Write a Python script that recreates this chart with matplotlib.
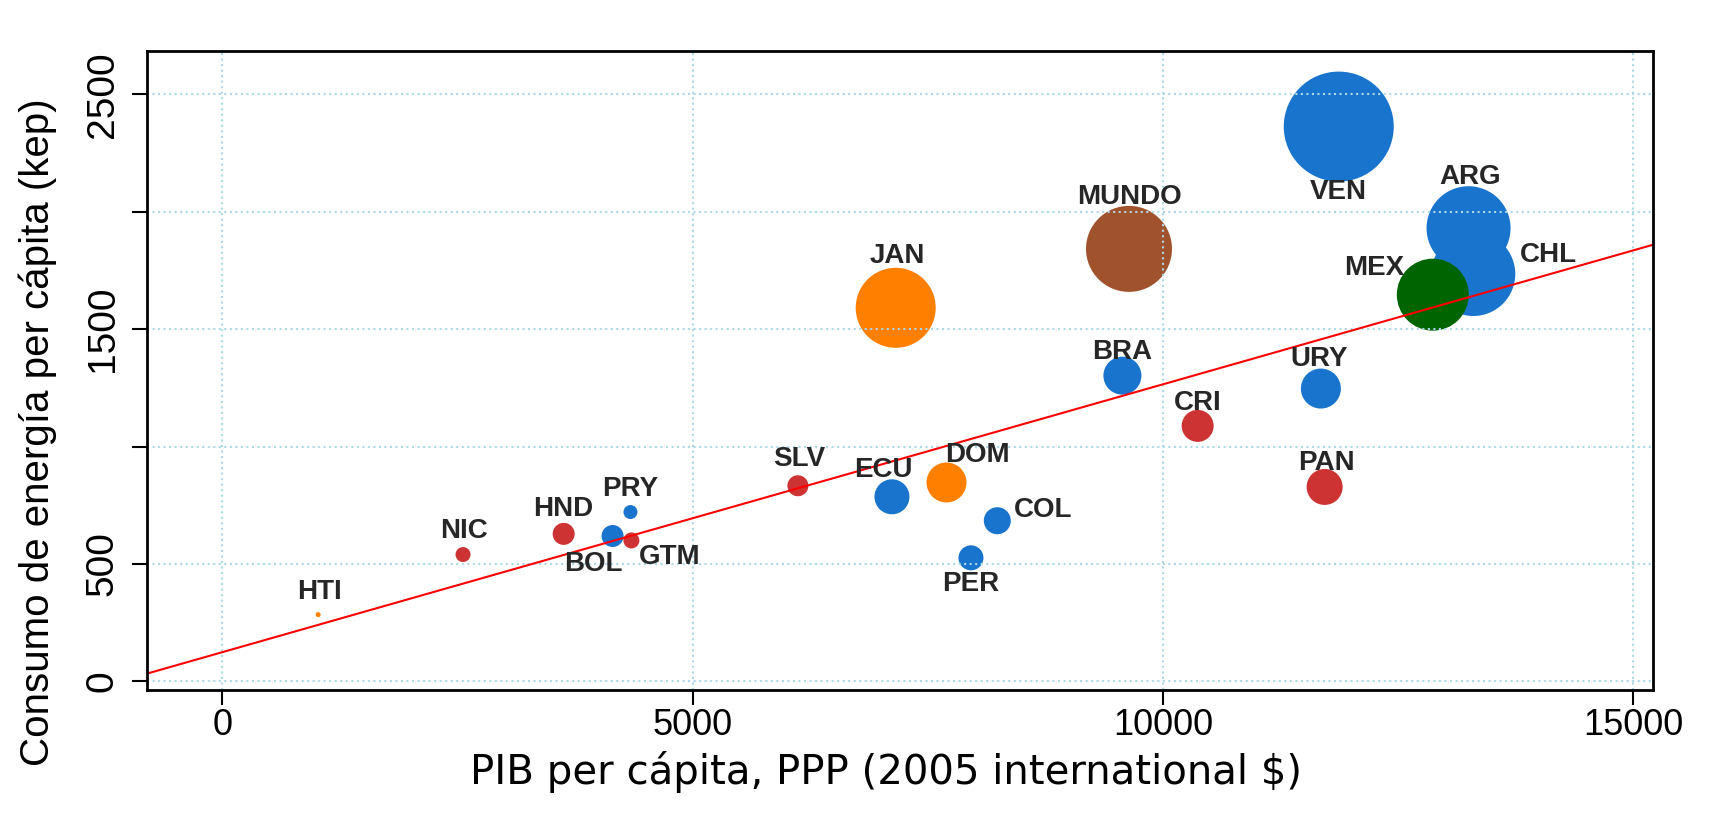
import numpy as np
import matplotlib.pyplot as plt

plt.rcParams['font.family'] = ['Liberation Sans', 'DejaVu Sans']

# datos
paises = ['HTI', 'NIC', 'HND', 'BOL', 'PRY', 'GTM', 'SLV', 'ECU', 'DOM', 'COL',
          'PER', 'BRA', 'CRI', 'URY', 'PAN', 'JAN', 'MUNDO', 'VEN', 'ARG', 'CHL', 'MEX']
pib = [1020, 2560, 3630, 4150, 4340, 4350, 6120, 7120, 7700, 8240,
       7960, 9570, 10370, 11680, 11720, 7160, 9640, 11870, 13250, 13300, 12870]
energia = [284, 540, 628, 619, 721, 600, 833, 786, 847, 684,
           526, 1302, 1088, 1247, 828, 1591, 1842, 2363, 1930, 1735, 1647]
tam = [5, 15, 22, 22, 14, 16, 21, 35, 40, 27,
       25, 38, 32, 40, 36, 80, 86, 110, 84, 84, 72]
grupo = ['car', 'cam', 'cam', 'sur', 'sur', 'cam', 'cam', 'sur', 'car', 'sur',
         'sur', 'sur', 'cam', 'sur', 'cam', 'car', 'mundo', 'sur', 'sur', 'sur', 'mex']

# recta de regresion
intercepto = 124
pendiente = 0.1141

colores = {'sur': '#1874CD', 'cam': '#CD3333', 'car': '#FF7F00',
           'mundo': '#A0522D', 'mex': '#006400'}

# desplazamiento de etiquetas (puntos)
offsets = {'HTI': (1, 16.5), 'NIC': (1, 17.3), 'HND': (0, 18), 'BOL': (-14, -20.4),
           'PRY': (0, 16.5), 'GTM': (27.5, -11.8), 'SLV': (1, 19), 'ECU': (-6, 19),
           'DOM': (22, 19.6), 'COL': (33, 8), 'PER': (0, -19), 'BRA': (0, 17.3),
           'CRI': (0, 16.5), 'URY': (-1, 21), 'PAN': (1.6, 17.3), 'JAN': (1, 37),
           'MUNDO': (0, 37), 'VEN': (0, -47), 'ARG': (1, 37), 'CHL': (54, 14),
           'MEX': (-42, 19)}

fig = plt.figure(figsize=(17.11, 8.13), dpi=100)
ax = fig.add_axes([0.0859, 0.1513, 0.8801, 0.7857])

cols = [colores[g] for g in grupo]
s = [(d * 0.72) ** 2 for d in tam]
ax.scatter(pib, energia, s=s, c=cols, edgecolors='none', zorder=2)

ax.set_xlim(-800, 15209)
ax.set_ylim(-37, 2684)

xx = np.array(ax.get_xlim())
ax.plot(xx, intercepto + pendiente * xx, color='red', lw=1.5, zorder=4)

ax.set_xticks([0, 5000, 10000, 15000])
ax.set_yticks([0, 500, 1000, 1500, 2000, 2500])
ax.set_yticklabels(['0', '500', '', '1500', '', '2500'])
ax.grid(True, color='#ADD8E6', linestyle=':', linewidth=1.5, zorder=3)
ax.set_axisbelow(False)

ax.tick_params(axis='both', direction='out', length=11, width=1.5)
ax.tick_params(axis='x', pad=2, labelsize=26)
ax.tick_params(axis='y', pad=8, labelsize=28)
for lab in ax.get_yticklabels():
    lab.set_rotation(90)
    lab.set_va('center')

for sp in ax.spines.values():
    sp.set_linewidth(2)
    sp.set_color('black')
    sp.set_zorder(5)

for p, x, y in zip(paises, pib, energia):
    ax.annotate(p, (x, y), xytext=offsets[p], textcoords='offset points',
                ha='center', va='center', fontsize=20, fontweight='bold',
                color='#262626', zorder=6)

ax.set_xlabel('PIB per cápita, PPP (2005 international $)', fontsize=29,
              family='DejaVu Sans', labelpad=5)
ax.xaxis.set_label_coords(0.491, -0.095)
ax.set_ylabel('Consumo de energía per cápita (kep)', fontsize=29)
ax.yaxis.set_label_coords(-0.06, 0.403)

fig.savefig('out.png', dpi=100)
